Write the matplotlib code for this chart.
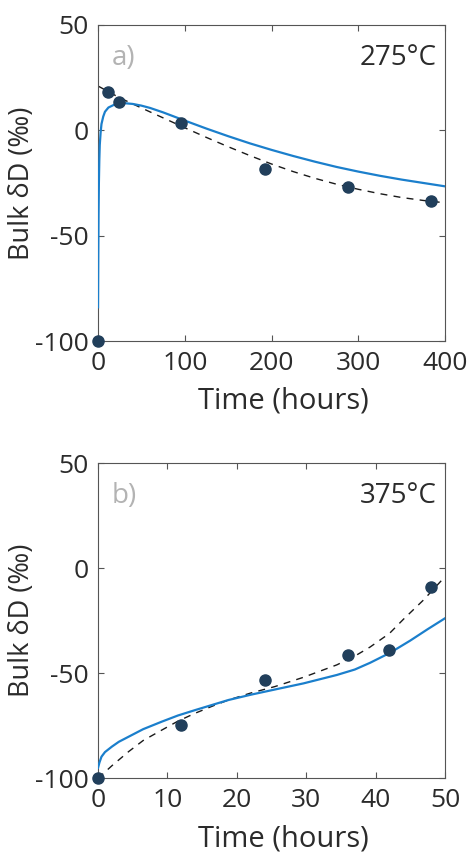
import matplotlib
matplotlib.use("Agg")
import matplotlib.pyplot as plt
import numpy as np

plt.rcParams['font.family'] = ['Open Sans', 'DejaVu Sans']
plt.rcParams['axes.unicode_minus'] = False

# --- panel a: 275 C ---
t_obs_a = [0, 12, 24, 96, 192, 288, 384]
d_obs_a = [-100, 18.3, 13.6, 3.3, -18.5, -26.9, -33.6]

t_fit_a = [0, 25, 50, 75, 100, 125, 150, 175, 200, 225, 250, 275, 300, 325, 350, 375, 400]
d_fit_a = [21, 15.4, 10.6, 5.9, 1.2, -3.4, -7.8, -12.0, -16.0, -19.6, -22.8, -25.6, -28.0, -30.1, -31.9, -33.3, -34.4]

t_mod_a = [0, 0.3, 0.6, 1, 1.5, 2, 3, 4, 6, 8, 12, 18, 25, 32, 40, 50, 60, 75, 100,
           125, 150, 175, 200, 225, 250, 275, 300, 325, 350, 375, 400]
d_mod_a = [-84, -60, -40, -25, -14, -7, -1, 3, 6.5, 8.8, 10.8, 12.0, 12.6, 12.8, 12.5, 11.7, 10.6, 8.5, 4.6,
           0.8, -2.8, -6.2, -9.3, -12.2, -14.9, -17.4, -19.6, -21.6, -23.4, -25.0, -26.6]

# --- panel b: 375 C ---
t_obs_b = [0, 12, 24, 36, 42, 48]
d_obs_b = [-100, -74.6, -53.2, -41.3, -38.9, -8.7]

t_fit_b = [0, 2, 4.4, 6.5, 9.2, 11.5, 14, 16.5, 18.8, 22, 25.5, 29.6, 34.4, 37, 39.2, 42, 44, 46.9, 50]
d_fit_b = [-100, -94, -87.3, -82, -77, -72.8, -69, -65.6, -62.7, -59.4, -56.3, -51.9, -46, -41.8, -37.5, -31, -24.3, -15.1, -4]

t_mod_b = [0, 0.2, 0.5, 1, 2, 3, 4.4, 6.5, 9.2, 11.5, 14, 16.5, 18.8, 22, 25.5, 29.6, 34.4, 37, 39.2, 42.1, 45, 47.5, 50]
d_mod_b = [-95, -92.5, -89.7, -87.5, -84.9, -82.6, -80.2, -76.6, -73, -70.1, -67.5, -65, -62.7, -60.2, -57.7, -54.8, -50.8, -48.2, -45.0, -40.2, -34.4, -29.0, -23.8]

blue = '#1b7fcc'
dot = '#213f5b'
ink = '#2b2b2b'

fig = plt.figure(figsize=(4.67, 8.59), dpi=100)
ax_a = fig.add_axes([0.2099, 0.603, 0.743, 0.368])
ax_b = fig.add_axes([0.2099, 0.0939, 0.743, 0.3668])

panels = [
    (ax_a, t_obs_a, d_obs_a, t_fit_a, d_fit_a, t_mod_a, d_mod_a, 400, [0, 100, 200, 300, 400], 'a)', '275°C'),
    (ax_b, t_obs_b, d_obs_b, t_fit_b, d_fit_b, t_mod_b, d_mod_b, 50, [0, 10, 20, 30, 40, 50], 'b)', '375°C'),
]

for ax, to, do, tf, df, tm, dm, xmax, xt, tag, temp in panels:
    ax.plot(tf, df, color='#1a1a1a', lw=1.0, dashes=(5, 4.5), zorder=2)
    ax.plot(tm, dm, color=blue, lw=1.6, zorder=3)
    ax.plot(to, do, 'o', color=dot, markersize=8, clip_on=False, zorder=4)
    ax.set_xlim(0, xmax)
    ax.set_ylim(-100, 50)
    ax.set_xticks(xt)
    ax.set_yticks([-100, -50, 0, 50])
    ax.tick_params(direction='in', length=4, width=0.8, top=True, right=True,
                   labelsize=19, colors='#555555', labelcolor=ink, pad=7)
    for s in ax.spines.values():
        s.set_color('#555555')
        s.set_linewidth(0.8)
    ax.set_xlabel('Time (hours)', fontsize=21, color=ink)
    ax.xaxis.set_label_coords(0.533, -0.145)
    ax.set_ylabel('Bulk δD (‰)', fontsize=19.5, color=ink)
    ax.yaxis.set_label_coords(-0.18, 0.5)
    ax.text(0.04, 0.94, tag, transform=ax.transAxes, fontsize=20, color='#b3b3b3', va='top', ha='left')
    ax.text(0.975, 0.94, temp, transform=ax.transAxes, fontsize=20, color=ink, va='top', ha='right')

fig.savefig('out.png', dpi=100)
